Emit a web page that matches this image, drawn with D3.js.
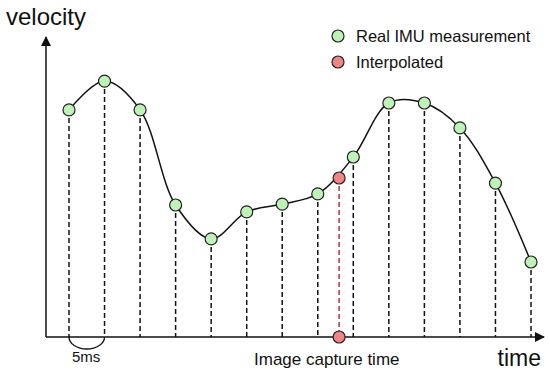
<!DOCTYPE html>
<html>
<head>
<meta charset="utf-8">
<script src="https://cdn.jsdelivr.net/npm/d3@7"></script>
<style>
  body { margin: 0; background: #fff; }
  text { font-family: "Liberation Sans", Arial, Helvetica, sans-serif; fill: #111; }
</style>
</head>
<body>
<div id="chart"></div>
<script>
// IMU samples every 5 ms (time in ms, velocity in arbitrary units)
const sampleTimes = [0, 5, 10, 15, 20, 25, 30, 35, 40, 45, 50, 55, 60, 65];
const sampleVelocity = [7.57, 8.53, 7.57, 4.4, 3.27, 4.17, 4.43, 4.77, 6.0, 7.8, 7.8, 6.97, 5.13, 2.5];
// interpolated value at image capture time
const captureTime = 38;
const captureVelocity = 5.3;
const legendLabels = ["Real IMU measurement", "Interpolated"];

const width = 550;
const height = 375;
const axisY = 337;
const axisX = 46;

const greenFill = "#bff2b8";
const redFill = "#f08585";
const strokeCol = "#222";

const x = d3.scaleLinear().domain([0, 65]).range([69, 531]);
const y = d3.scaleLinear().domain([0, 10]).range([axisY, 37]);

const svg = d3.select("#chart")
  .append("svg")
  .attr("width", width)
  .attr("height", height);

const samples = sampleTimes.map((t, i) => ({ t: t, v: sampleVelocity[i] }));

// arrow marker
svg.append("defs").append("marker")
  .attr("id", "arrow")
  .attr("viewBox", "0 0 10 10")
  .attr("refX", 9)
  .attr("refY", 5)
  .attr("markerWidth", 10)
  .attr("markerHeight", 10)
  .attr("markerUnits", "userSpaceOnUse")
  .attr("orient", "auto")
  .append("path")
  .attr("d", "M0,0 L10,5 L0,10 Z")
  .attr("fill", "#111");

// dashed drop lines
svg.selectAll(".drop")
  .data(samples)
  .enter()
  .append("line")
  .attr("class", "drop")
  .attr("x1", d => x(d.t))
  .attr("x2", d => x(d.t))
  .attr("y1", d => y(d.v))
  .attr("y2", axisY)
  .attr("stroke", "#111")
  .attr("stroke-width", 1.5)
  .attr("stroke-dasharray", "5,3");

svg.append("line")
  .attr("x1", x(captureTime))
  .attr("x2", x(captureTime))
  .attr("y1", y(captureVelocity))
  .attr("y2", axisY)
  .attr("stroke", "#a83a3a")
  .attr("stroke-width", 1.5)
  .attr("stroke-dasharray", "5,3");

// axes
svg.append("line")
  .attr("x1", axisX).attr("y1", axisY)
  .attr("x2", axisX).attr("y2", 37)
  .attr("stroke", "#111")
  .attr("stroke-width", 1.5)
  .attr("marker-end", "url(#arrow)");

svg.append("line")
  .attr("x1", axisX).attr("y1", axisY)
  .attr("x2", 544).attr("y2", axisY)
  .attr("stroke", "#111")
  .attr("stroke-width", 1.5)
  .attr("marker-end", "url(#arrow)");

// smooth velocity curve
const line = d3.line()
  .x(d => x(d.t))
  .y(d => y(d.v))
  .curve(d3.curveCatmullRom.alpha(0.5));

svg.append("path")
  .datum(samples)
  .attr("d", line)
  .attr("fill", "none")
  .attr("stroke", "#111")
  .attr("stroke-width", 1.5);

// sample points
svg.selectAll(".sample")
  .data(samples)
  .enter()
  .append("circle")
  .attr("class", "sample")
  .attr("cx", d => x(d.t))
  .attr("cy", d => y(d.v))
  .attr("r", 6)
  .attr("fill", greenFill)
  .attr("stroke", strokeCol)
  .attr("stroke-width", 1.2);

svg.append("circle")
  .attr("cx", x(captureTime))
  .attr("cy", y(captureVelocity))
  .attr("r", 6)
  .attr("fill", redFill)
  .attr("stroke", strokeCol)
  .attr("stroke-width", 1.2);

// capture point on the time axis
svg.append("circle")
  .attr("cx", x(captureTime))
  .attr("cy", axisY)
  .attr("r", 6)
  .attr("fill", redFill)
  .attr("stroke", strokeCol)
  .attr("stroke-width", 1.2);

// 5ms bracket arc
const x0 = x(sampleTimes[0]), x1 = x(sampleTimes[1]);
svg.append("path")
  .attr("d", `M${x0},${axisY} A${(x1 - x0) / 2},12 0 0 0 ${x1},${axisY}`)
  .attr("fill", "none")
  .attr("stroke", "#111")
  .attr("stroke-width", 1.3);

svg.append("text")
  .attr("x", 72)
  .attr("y", 362)
  .style("font-size", "15px")
  .text("5ms");

svg.append("text")
  .attr("x", 254)
  .attr("y", 365)
  .style("font-size", "17px")
  .text("Image capture time");

// axis titles
svg.append("text")
  .attr("x", 6)
  .attr("y", 25)
  .style("font-size", "24px")
  .text("velocity");

svg.append("text")
  .attr("x", 541)
  .attr("y", 366)
  .attr("text-anchor", "end")
  .style("font-size", "23px")
  .text("time");

// legend
const legend = svg.append("g")
  .attr("transform", "translate(338, 36)");

const legendItem = legend.selectAll(".legend-item")
  .data(legendLabels)
  .enter()
  .append("g")
  .attr("class", "legend-item")
  .attr("transform", (d, i) => `translate(0, ${i * 26})`);

legendItem.append("circle")
  .attr("r", 6)
  .attr("fill", (d, i) => i === 0 ? greenFill : redFill)
  .attr("stroke", strokeCol)
  .attr("stroke-width", 1.2);

legendItem.append("text")
  .attr("x", 18)
  .attr("y", 6)
  .style("font-size", "16.5px")
  .text(d => d);
</script>
</body>
</html>
